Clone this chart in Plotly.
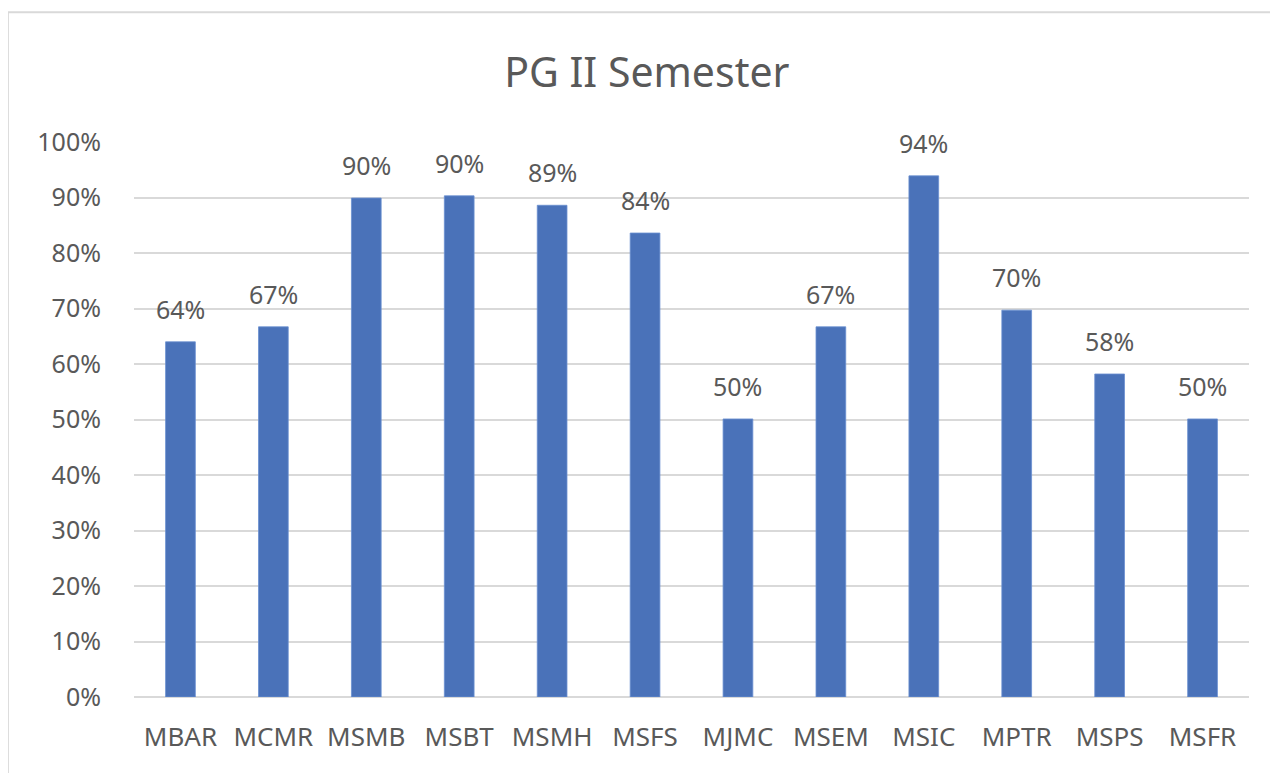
import plotly.graph_objects as go

categories = ["MBAR", "MCMR", "MSMB", "MSBT", "MSMH", "MSFS", "MJMC", "MSEM", "MSIC", "MPTR", "MSPS", "MSFR"]
values = [0.640, 0.667, 0.899, 0.903, 0.886, 0.836, 0.501, 0.667, 0.939, 0.697, 0.582, 0.501]
y_ticks = [0, 0.1, 0.2, 0.3, 0.4, 0.5, 0.6, 0.7, 0.8, 0.9, 1.0]
y_tick_labels = ["0%", "10%", "20%", "30%", "40%", "50%", "60%", "70%", "80%", "90%", "100%"]
title_text = "PG II Semester"

FONT = "Noto Sans"
GREY = "#595959"

fig = go.Figure()
fig.add_trace(go.Bar(
    x=categories, y=values,
    marker=dict(color="#4a72b9", line=dict(color="#6a8fd0", width=0.8)),
    hoverinfo="x+y",
))

for c, v in zip(categories, values):
    fig.add_annotation(x=c, y=v, text=f"{round(v*100):d}%", showarrow=False,
                       yanchor="bottom", yshift=14,
                       font=dict(family=FONT, size=25, color=GREY))

fig.update_layout(
    width=1270, height=765,
    margin=dict(l=126, r=29, t=134, b=76),
    paper_bgcolor="white", plot_bgcolor="white",
    bargap=0.68,
    showlegend=False,
    title=dict(text=title_text, x=0.503, xanchor="center", y=0.915, yanchor="middle",
               font=dict(family=FONT, size=41, color=GREY)),
    xaxis=dict(tickfont=dict(family=FONT, size=26, color=GREY), showgrid=False,
               showline=False, ticks="", ticklabelstandoff=22),
    yaxis=dict(range=[0, 1.0], tickvals=y_ticks, ticktext=y_tick_labels,
               tickfont=dict(family=FONT, size=25, color=GREY),
               showgrid=True, gridcolor="#d9d9d9", gridwidth=1.5,
               zeroline=True, zerolinecolor="#d9d9d9", zerolinewidth=1.5,
               showline=False, ticks="", ticklabelstandoff=32),
    shapes=[dict(type="rect", xref="paper", yref="paper",
                 x0=-0.1131, x1=1.1, y0=-0.3, y1=1.234,
                 line=dict(color="#d9d9d9", width=2), layer="below")],
)

fig.write_html("out.html")
